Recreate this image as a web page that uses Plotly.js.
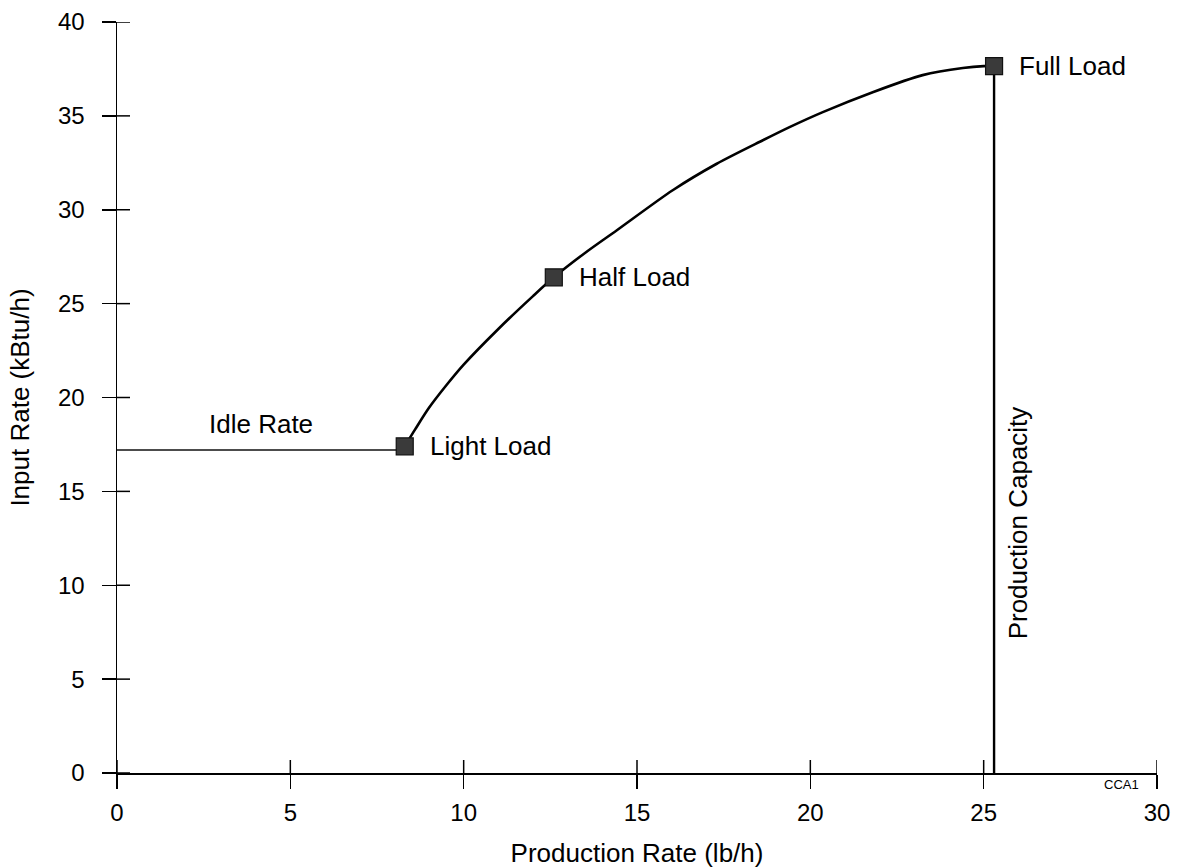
<!DOCTYPE html>
<html>
<head>
<meta charset="utf-8">
<script src="https://cdn.plot.ly/plotly-3.0.1.min.js"></script>
<style>html,body{margin:0;padding:0;background:#fff;}#chart{width:1179px;height:868px;}</style>
</head>
<body>
<div id="chart"></div>
<script>
// Operating points
const pointNames = ["Light Load", "Half Load", "Full Load"];
const pointX = [8.3, 12.6, 25.3];
const pointY = [17.4, 26.4, 37.65];

// Idle rate line
const idleX = [0, 8.3];
const idleY = [17.2, 17.2];

// Production energy rate curve
const curveX = [8.3, 8.6, 9.0, 9.5, 10.0, 11.0, 12.0, 12.6, 13.5, 14.42, 16.03, 17.3, 18.63, 19.4, 20.36, 21.8, 23.24, 24.4, 25.0, 25.3];
const curveY = [17.4, 18.3, 19.45, 20.65, 21.75, 23.65, 25.4, 26.4, 27.7, 28.91, 31.04, 32.45, 33.7, 34.4, 35.2, 36.26, 37.17, 37.55, 37.65, 37.65];

// Production capacity line
const capX = [25.3, 25.3];
const capY = [0, 37.65];

// Axis ticks
const xTicks = [0, 5, 10, 15, 20, 25, 30];
const yTicks = [0, 5, 10, 15, 20, 25, 30, 35, 40];

const FONT = "Liberation Sans, Arial, Helvetica, sans-serif";

const traces = [
  {x: idleX, y: idleY, mode: "lines", line: {color: "#111", width: 1.6}, hoverinfo: "skip"},
  {x: curveX, y: curveY, mode: "lines", line: {color: "#000", width: 2.6, shape: "spline", smoothing: 0.8}, hoverinfo: "skip"},
  {x: capX, y: capY, mode: "lines", line: {color: "#000", width: 2.4}, hoverinfo: "skip"},
  {x: pointX, y: pointY, mode: "markers", marker: {symbol: "square", size: 17, color: "#3a3a3a", line: {color: "#111", width: 1.2}}, text: pointNames, hoverinfo: "text"}
];

const annotations = pointNames.map((n, i) => ({
  x: pointX[i], y: pointY[i], xref: "x", yref: "y", text: n, showarrow: false,
  xanchor: "left", yanchor: "middle", xshift: 23, font: {family: FONT, size: 26, color: "#000"}
}));
annotations.push({
  x: (idleX[0] + idleX[1]) / 2, y: idleY[0], xref: "x", yref: "y", text: "Idle Rate", showarrow: false,
  xanchor: "center", yanchor: "bottom", yshift: 9, font: {family: FONT, size: 26, color: "#000"}
});
annotations.push({
  x: capX[0], y: 13.3, xref: "x", yref: "y", text: "Production Capacity", showarrow: false,
  textangle: -90, xanchor: "left", yanchor: "middle", xshift: 7, font: {family: FONT, size: 26, color: "#000"}
});
annotations.push({
  x: 29.55, y: 0, xref: "x", yref: "y", text: "CCA1", showarrow: false,
  xanchor: "right", yanchor: "top", yshift: -2, font: {family: FONT, size: 13, color: "#000"}
});

// inner half of the crossing tick marks, anchored to the axis values (pixel length)
const tickShapes = [];
xTicks.forEach(t => tickShapes.push({
  type: "line", xref: "x", yref: "y", x0: t, x1: t, ysizemode: "pixel", yanchor: 0, y0: 0, y1: 13,
  line: {color: "#000", width: 1.5}
}));
yTicks.forEach(t => tickShapes.push({
  type: "line", xref: "x", yref: "y", y0: t, y1: t, xsizemode: "pixel", xanchor: 0, x0: 0, x1: 13,
  line: {color: "#000", width: 1.5}
}));

const axisCommon = {
  showgrid: false, zeroline: false, showline: true, linecolor: "#000", linewidth: 1.5,
  ticks: "outside", ticklen: 14, tickwidth: 1.5, tickcolor: "#000",
  tickfont: {family: FONT, size: 24, color: "#000"}, fixedrange: true
};

const layout = {
  width: 1179, height: 868,
  margin: {l: 117, r: 22, t: 22, b: 95},
  paper_bgcolor: "#fff", plot_bgcolor: "#fff",
  showlegend: false,
  font: {family: FONT, color: "#000"},
  xaxis: Object.assign({}, axisCommon, {
    range: [0, 30], tickvals: xTicks, ticktext: xTicks.map(String), ticklabelstandoff: 4,
    title: {text: "Production Rate (lb/h)", font: {family: FONT, size: 26, color: "#000"}, standoff: 19}
  }),
  yaxis: Object.assign({}, axisCommon, {
    range: [0, 40], tickvals: yTicks, ticktext: yTicks.map(String), ticklabelstandoff: 12,
    title: {text: "Input Rate (kBtu/h)", font: {family: FONT, size: 26, color: "#000"}, standoff: 21}
  }),
  shapes: tickShapes,
  annotations: annotations
};

Plotly.newPlot("chart", traces, layout, {displayModeBar: false, staticPlot: true});
</script>
</body>
</html>
